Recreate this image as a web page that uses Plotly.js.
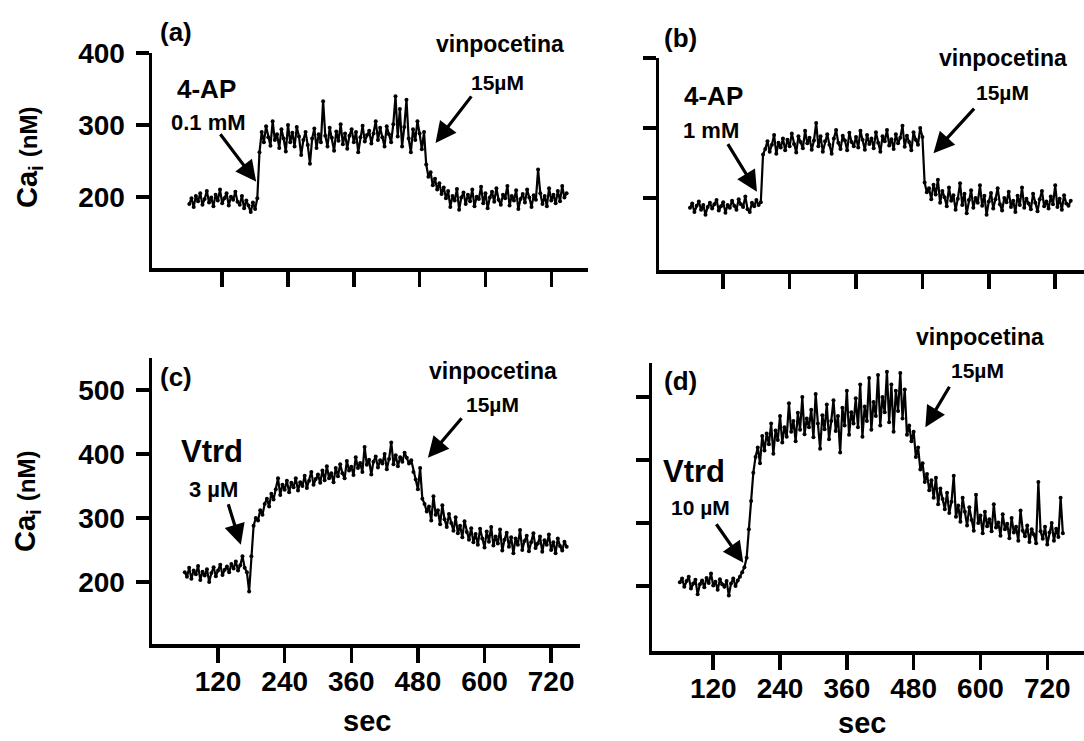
<!DOCTYPE html>
<html>
<head>
<meta charset="utf-8">
<script src="https://cdn.plot.ly/plotly-3.0.1.min.js"></script>
<style>html,body{margin:0;padding:0;background:#fff;}#chart{width:1084px;height:741px;}</style>
</head>
<body>
<div id="chart"></div>
<script>
// ---- Data (sampling: start time and interval in seconds) ----
const startSec = 60;
const stepSec = 4;
const xTickVals = [120, 240, 360, 480, 600, 720];
const yTicksTop = [200, 300, 400];
const yTicksBottom = [200, 300, 400, 500];

// (a) 4-AP 0.1 mM
const caA = [
  190,198,186,201,194,205,189,197,208,192,
  199,187,203,195,210,191,198,205,188,200,
  196,207,193,189,201,184,195,188,179,192,
  183,198,
  262,290,276,298,283,271,305,279,287,268,
  294,281,263,300,276,289,270,297,284,258,
  279,290,272,246,281,295,268,287,276,333,
  285,270,296,282,264,291,278,301,273,288,
  267,285,294,276,290,262,283,299,277,286,
  292,274,288,305,279,296,283,270,298,287,
  276,301,340,284,322,270,297,335,281,262,
  294,279,305,288,266,290,
  245,228,234,216,225,210,219,204,213,198,
  208,186,201,195,211,182,199,206,190,203,
  194,210,187,200,197,214,191,205,184,199,
  207,193,212,196,189,203,198,215,188,201,
  195,209,183,197,204,192,210,199,186,202,
  196,238,205,190,201,187,212,195,203,191,
  208,194,215,199,205
];

// (b) 4-AP 1 mM
const caB = [
  186,192,180,189,195,183,190,176,187,193,
  185,191,197,182,188,194,179,190,186,196,
  189,183,198,191,187,202,184,180,193,188,
  197,190,194,
  262,270,281,266,276,290,263,279,272,285,
  268,283,274,292,277,265,288,280,271,296,
  278,286,269,282,307,274,288,266,281,291,
  276,263,285,297,279,270,289,282,268,293,
  280,274,287,272,296,283,269,290,277,285,
  271,294,279,266,288,281,297,275,284,270,
  291,278,286,303,273,289,280,268,294,283,
  276,300,287,
  222,208,214,198,219,205,226,193,210,201,
  188,215,196,204,183,199,221,190,206,178,
  197,211,186,200,193,218,189,203,176,195,
  207,185,198,214,191,182,200,194,209,187,
  196,180,203,190,215,186,199,192,184,206,
  193,181,198,210,188,195,185,202,191,218,
  187,199,183,204,192,189,196
];

// (c) Vtrd 3 uM
const caC = [
  215,208,222,205,218,212,225,203,216,210,
  220,200,214,223,209,218,227,211,219,224,
  215,228,221,232,218,226,240,222,215,185,
  240,288,300,296,312,305,322,330,318,338,
  329,345,362,336,352,344,358,340,355,348,
  362,343,356,350,366,347,358,372,352,361,
  368,355,374,359,381,362,370,356,378,365,
  384,370,362,389,374,380,367,395,378,386,
  372,411,383,391,368,388,396,379,390,385,
  400,376,392,418,384,398,381,395,388,402,
  394,385,390,372,360,345,378,330,322,310,
  318,296,334,305,312,290,320,298,286,306,
  292,280,301,276,288,270,295,278,266,284,
  262,275,258,283,268,254,279,263,286,257,
  271,260,282,249,266,277,255,270,245,268,
  258,281,250,264,272,248,262,276,253,260,
  271,247,265,258,274,250,262,245,268,256,
  249,263,255
];

// (d) Vtrd 10 uM
const caD = [
  206,212,199,208,215,196,204,210,187,203,
  209,198,213,205,220,201,207,194,211,203,
  199,208,185,204,212,200,209,215,222,
  230,245,290,335,380,405,420,395,438,415,
  442,425,458,410,447,432,470,428,452,437,
  490,445,462,430,475,448,500,441,466,452,
  480,436,505,458,418,471,449,488,433,462,
  495,446,470,412,483,455,510,440,476,458,
  498,452,520,437,485,462,530,448,492,470,
  535,455,500,476,540,460,520,445,510,478,
  538,466,512,440,455,430,445,405,420,385,
  395,365,378,352,368,340,372,330,355,338,
  322,348,316,334,375,310,328,302,340,318,
  296,325,305,288,345,300,312,284,318,295,
  306,287,330,293,301,280,314,290,299,276,
  308,285,294,272,320,288,279,296,270,290,
  282,268,365,287,275,294,266,285,300,272,
  291,278,340,284
];

// ---- Layout helpers (pixel -> paper) ----
const W = 1084, H = 741;
const px = v => v / W;
const py = v => 1 - v / H;
const FONT = 'Liberation Sans, Arial, sans-serif';

function trace(y, xa, ya) {
  return {
    type: 'scatter', mode: 'lines+markers', y: y, x0: startSec, dx: stepSec,
    xaxis: xa, yaxis: ya,
    line: {color: '#000', width: 2.2},
    marker: {color: '#000', size: 4},
    hoverinfo: 'skip', showlegend: false
  };
}

const data = [
  trace(caA, 'x', 'y'),
  trace(caB, 'x2', 'y2'),
  trace(caC, 'x3', 'y3'),
  trace(caD, 'x4', 'y4')
];

function xAxis(domPx, range, showLabels, anchor) {
  return {
    domain: [px(domPx[0]), px(domPx[1])], range: range, anchor: anchor,
    showline: true, linecolor: '#000', linewidth: 3.5,
    ticks: 'outside', ticklen: 15, tickwidth: 3.5, tickcolor: '#000',
    tickvals: xTickVals, showticklabels: showLabels,
    ticklabelstandoff: -5,
    tickfont: {family: FONT, size: 28, color: '#000', weight: 'bold'},
    showgrid: false, zeroline: false, fixedrange: true
  };
}
function yAxis(domPx, range, ticks, showLabels, anchor) {
  return {
    domain: [py(domPx[1]), py(domPx[0])], range: range, anchor: anchor,
    showline: true, linecolor: '#000', linewidth: 3.5,
    ticks: 'outside', ticklen: 13, tickwidth: 3.5, tickcolor: '#000',
    tickvals: ticks, showticklabels: showLabels,
    ticklabelstandoff: 5,
    tickfont: {family: FONT, size: 28, color: '#000', weight: 'bold'},
    showgrid: false, zeroline: false, fixedrange: true
  };
}

function label(text, xPx, yPx, size) {
  return {text: text, xref: 'paper', yref: 'paper', x: px(xPx), y: py(yPx),
    xanchor: 'center', yanchor: 'middle', showarrow: false,
    font: {family: FONT, size: size, color: '#000', weight: 'bold'}};
}
function arrow(xa, ya, xHead, yHead, dxTail, dyTail) {
  return {text: '', xref: xa, yref: ya, x: xHead, y: yHead, ax: dxTail, ay: dyTail,
    showarrow: true, arrowhead: 2, arrowsize: 1.3, arrowwidth: 3.2, arrowcolor: '#000', standoff: 0};
}

const yTitle = 'Ca<sub>i</sub> <span style="font-size:24px">(nM)</span>';

const annotations = [
  // panel letters
  label('(a)', 176, 32, 26),
  label('(b)', 680, 38, 26),
  label('(c)', 176, 377, 26),
  label('(d)', 680, 381, 26),
  // (a)
  label('4-AP', 206, 89, 26),
  label('0.1 mM', 208, 122, 22),
  arrow('x', 'y', 182, 221, -37, -49),
  label('vinpocetina', 500, 44, 23),
  label('15µM', 497, 82, 21),
  arrow('x', 'y', 509, 275, 37, -48),
  // (b)
  label('4-AP', 713, 96, 26),
  label('1 mM', 711, 130, 22),
  arrow('x2', 'y2', 181, 209, -30, -49),
  label('vinpocetina', 1003, 58, 23),
  label('15µM', 1002, 92, 21),
  arrow('x2', 'y2', 500, 264, 42, -46),
  // (c)
  label('Vtrd', 212, 451, 31),
  label('3 µM', 213, 489, 22),
  arrow('x3', 'y3', 161, 258, -13, -42),
  label('vinpocetina', 493, 371, 23),
  label('15µM', 492, 404, 21),
  arrow('x3', 'y3', 498, 394, 35, -41),
  // (d)
  label('Vtrd', 694, 471, 31),
  label('10 µM', 700, 507, 21),
  arrow('x4', 'y4', 174, 237, -28, -40),
  label('vinpocetina', 980, 337, 23),
  label('15µM', 977, 370, 21),
  arrow('x4', 'y4', 501, 452, 25, -42),
  // axis titles
  label('sec', 367, 721, 29),
  label('sec', 862, 723, 29),
  Object.assign(label(yTitle, 29, 158, 29), {textangle: -90}),
  Object.assign(label(yTitle, 27, 502, 29), {textangle: -90})
];

const layout = {
  width: W, height: H,
  margin: {l: 0, r: 0, t: 0, b: 0},
  paper_bgcolor: '#fff', plot_bgcolor: 'rgba(0,0,0,0)',
  showlegend: false,
  xaxis: xAxis([152, 588], [-8, 787], false, 'y'),
  yaxis: yAxis([53, 268], [101, 400], yTicksTop, true, 'x'),
  xaxis2: xAxis([659, 1084], [4, 772], false, 'y2'),
  yaxis2: yAxis([58, 270], [97, 400], yTicksTop, false, 'x2'),
  xaxis3: xAxis([152, 580], [1, 772], true, 'y3'),
  yaxis3: yAxis([358, 644], [103, 550], yTicksBottom, true, 'x3'),
  xaxis4: xAxis([652, 1084], [10, 786], true, 'y4'),
  yaxis4: yAxis([363, 651], [97, 554], yTicksBottom, false, 'x4'),
  annotations: annotations
};

Plotly.newPlot('chart', data, layout, {staticPlot: true, displayModeBar: false});
</script>
</body>
</html>
